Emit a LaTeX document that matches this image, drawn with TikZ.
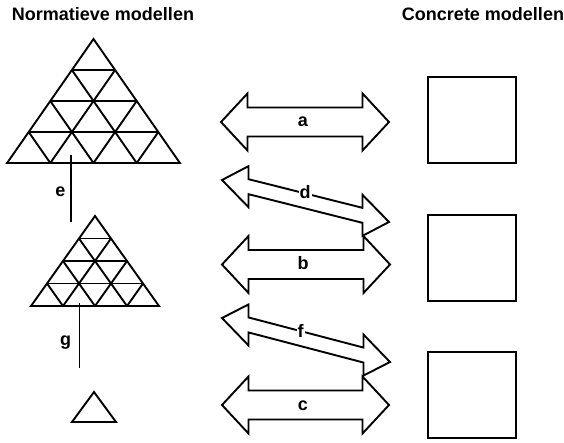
\documentclass[tikz,border=0pt]{standalone}
\usepackage{fontspec}
\setmainfont{Liberation Sans}

\newcommand{\headlen}{26.5}
\tikzset{every path/.style={line width=1.9pt, line join=miter}}
\tikzset{lbl/.style={font=\fontsize{18}{20}\selectfont\bfseries, inner sep=1pt}}
\tikzset{concrete/.style={draw, line width=2.6pt, minimum width=88pt, minimum height=86pt, inner sep=0pt}}

% triangle in four rows: apex, x step, y step
\newcommand{\gridtri}[3]{%
\begin{scope}[shift={#1}, x=#2pt, y=-#3pt]
\draw (0,0) -- (-4,4) -- (4,4) -- cycle;
\foreach \k in {1,2,3} {
\draw (-\k,\k) -- (\k,\k);
\draw (-\k,\k) -- ({4-2*\k},4);
\draw (\k,\k) -- ({2*\k-4},4);
}
\end{scope}}

% double block arrow: left tip, right tip, shaft half, head half
\newcommand{\dblarrow}[6]{%
\pgfmathsetmacro{\arlx}{#1+\headlen}
\pgfmathsetmacro{\arrx}{#3-\headlen}
\pgfmathsetmacro{\arly}{#2+\headlen*(#4-#2)/(#3-#1)}
\pgfmathsetmacro{\arry}{#4-\headlen*(#4-#2)/(#3-#1)}
\draw (#1,#2) -- (\arlx,\arly-#6) -- (\arlx,\arly-#5) -- (\arrx,\arry-#5) -- (\arrx,\arry-#6) -- (#3,#4)
 -- (\arrx,\arry+#6) -- (\arrx,\arry+#5) -- (\arlx,\arly+#5) -- (\arlx,\arly+#6) -- cycle;}

\begin{document}
\begin{tikzpicture}[x=1pt, y=-1pt]
\useasboundingbox (0,0) rectangle (564,442);

\node[lbl, anchor=base] (normtitle) at (103,20.7) {Normatieve modellen};
\node[lbl, anchor=base] (conctitle) at (483,20.7) {Concrete modellen};

\gridtri{(93.5,39)}{21.6}{31};
\gridtri{(95,216)}{16}{22.5};
\draw (94,392) -- (72,422) -- (116,422) -- cycle;

\coordinate (etop) at (71,155);
\coordinate (ebot) at (71,222);
\coordinate (gtop) at (79.5,303);
\coordinate (gbot) at (79.5,368);
\draw (etop) -- (ebot);
\draw (gtop) -- (gbot);
\node[lbl] (lble) at (60.5,191.5) {e};
\node[lbl] (lblg) at (65.5,342.5) {g};

\node[concrete] (conc1) at (472,120) {};
\node[concrete] (conc2) at (472,258) {};
\node[concrete] (conc3) at (472,395) {};

\dblarrow{221}{122}{389}{122}{14.5}{28.5}
\dblarrow{222}{180}{389}{222}{7.5}{20.5}
\dblarrow{222}{264.5}{390}{264.5}{14.5}{28.5}
\dblarrow{222}{318}{390}{362}{7.5}{20.5}
\dblarrow{222}{405}{389}{405}{14.5}{28.5}

\node[lbl] (lbla) at (303,121.5) {a};
\node[lbl, fill=white] (lbld) at (305,192) {d};
\node[lbl] (lblb) at (303,263) {b};
\node[lbl, fill=white] (lblf) at (300.5,331) {f};
\node[lbl] (lblc) at (303,405.5) {c};
\end{tikzpicture}
\end{document}
